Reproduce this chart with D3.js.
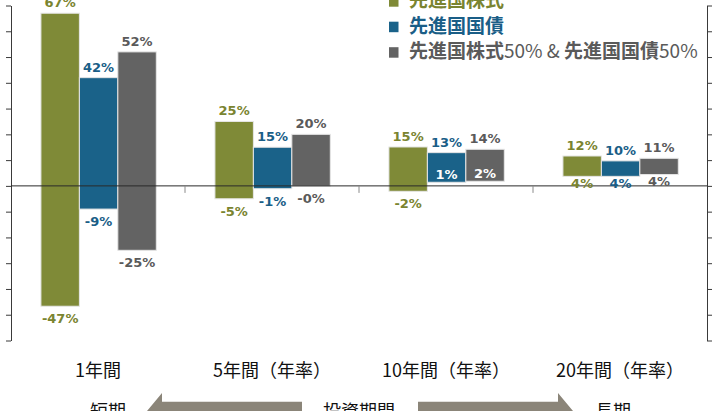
<!DOCTYPE html>
<html>
<head>
<meta charset="utf-8">
<script src="https://cdn.jsdelivr.net/npm/d3@7"></script>
<style>
  body { margin: 0; background: #fff; }
  svg { display: block; }
</style>
</head>
<body>
<div id="chart"></div>
<script>
// data (percent, max / min of the rolling returns)
var categories = ["1年間", "5年間（年率）", "10年間（年率）", "20年間（年率）"];
var seriesNames = ["先進国株式", "先進国国債", "先進国株式50% & 先進国国債50%"];
var equityMax = [67, 25, 15.1, 11.6];
var equityMin = [-46.7, -5, -2.1, 3.7];
var bondMax = [42, 15, 12.9, 9.7];
var bondMin = [-9, -1.1, 1.4, 3.7];
var mixMax = [52, 20, 14.2, 10.7];
var mixMin = [-25, -0.1, 1.8, 4.4];
var yTicks = [-60, -50, -40, -30, -20, -10, 0, 10, 20, 30, 40, 50, 60, 70];

var barColors = ["#7f8a37", "#1a6289", "#636363"];
var textColors = ["#7a8430", "#1a5e87", "#5a5a5a"];

var width = 720, height = 411;
var plotLeft = 11, plotRight = 707, plotTop = 5.5, plotBottom = 340.5;

var svg = d3.select("#chart")
  .append("svg")
    .attr("width", width)
    .attr("height", height);

// scales
var x = d3.scaleBand()
  .domain(categories)
  .range([plotLeft, plotRight])
  .padding(0);

var x1 = d3.scaleBand()
  .domain(seriesNames)
  .range([x.bandwidth() * 0.172, x.bandwidth() * 0.835])
  .padding(0);

var y = d3.scaleLinear()
  .domain([-60, 70])
  .range([plotBottom, plotTop]);

// build rows from the arrays
var mins = [equityMin, bondMin, mixMin];
var maxs = [equityMax, bondMax, mixMax];
var rows = [];
categories.forEach(function(c, i) {
  seriesNames.forEach(function(s, j) {
    rows.push({cat: c, series: s, idx: j, min: mins[j][i], max: maxs[j][i]});
  });
});

function pct(v) {
  var r = Math.round(v);
  return (v < 0 ? "-" : "") + Math.abs(r) + "%";
}

// axes left and right (no labels)
svg.append("g")
  .attr("transform", "translate(" + plotLeft + ",0)")
  .call(d3.axisLeft(y).tickValues(yTicks).tickSize(5).tickSizeOuter(0).tickFormat(""))
  .call(function(g) { g.selectAll("path,line").attr("stroke", "#3a3a3a"); });

svg.append("g")
  .attr("transform", "translate(" + plotRight + ",0)")
  .call(d3.axisRight(y).tickValues(yTicks).tickSize(5).tickSizeOuter(0).tickFormat(""))
  .call(function(g) { g.selectAll("path,line").attr("stroke", "#3a3a3a"); });

// bars
svg.selectAll("rect.bar")
  .data(rows)
  .enter()
  .append("rect")
    .attr("class", "bar")
    .attr("x", function(d) { return x(d.cat) + x1(d.series); })
    .attr("y", function(d) { return y(d.max); })
    .attr("width", x1.bandwidth())
    .attr("height", function(d) { return y(d.min) - y(d.max); })
    .attr("fill", function(d) { return barColors[d.idx]; })
    .attr("stroke", "#e6e6e6")
    .attr("stroke-width", 1);

// zero line + category separators
svg.append("line")
  .attr("x1", plotLeft).attr("x2", plotRight)
  .attr("y1", y(0)).attr("y2", y(0))
  .attr("stroke", "#2a2a2a");

svg.selectAll("line.sep")
  .data(categories.slice(1))
  .enter()
  .append("line")
    .attr("x1", function(d) { return x(d); })
    .attr("x2", function(d) { return x(d); })
    .attr("y1", y(0))
    .attr("y2", y(0) + 7)
    .attr("stroke", "#8a8a8a");

// value labels
var labelFont = "'DejaVu Sans', Verdana, sans-serif";

svg.selectAll("text.top")
  .data(rows)
  .enter()
  .append("text")
    .attr("x", function(d) { return x(d.cat) + x1(d.series) + x1.bandwidth() / 2; })
    .attr("y", function(d) { return y(d.max) - 6; })
    .attr("text-anchor", "middle")
    .style("font-family", labelFont)
    .style("font-weight", "bold")
    .style("font-size", "13px")
    .attr("fill", function(d) { return textColors[d.idx]; })
    .text(function(d) { return pct(d.max); });

svg.selectAll("text.bot")
  .data(rows)
  .enter()
  .append("text")
    .attr("x", function(d) { return x(d.cat) + x1(d.series) + x1.bandwidth() / 2; })
    .attr("y", function(d) {
      // small positive minimum sits inside the bar
      if (d.min > 0 && d.min < 3) return y(d.min) - 3.5;
      return y(d.min) + (d.min < 0 ? 17 : 11.5);
    })
    .attr("text-anchor", "middle")
    .style("font-family", labelFont)
    .style("font-weight", "bold")
    .style("font-size", "13px")
    .attr("fill", function(d) {
      if (d.min > 0 && d.min < 3) return "#ffffff";
      return textColors[d.idx];
    })
    .text(function(d) { return pct(d.min); });

// category labels
var jpFont = "'Noto Sans CJK JP', sans-serif";
svg.selectAll("text.cat")
  .data(categories)
  .enter()
  .append("text")
    .attr("x", function(d) { return x(d) + x.bandwidth() / 2; })
    .attr("y", 377)
    .attr("text-anchor", "middle")
    .style("font-family", jpFont)
    .style("font-size", "18px")
    .attr("fill", "#111")
    .text(function(d) { return d; });

// legend
var legend = svg.append("g").attr("transform", "translate(389,0)");
seriesNames.forEach(function(s, i) {
  var by = 7.2 + i * 25.5;
  legend.append("rect")
    .attr("x", 0)
    .attr("y", by - 11)
    .attr("width", 9.5)
    .attr("height", 10.5)
    .attr("fill", barColors[i]);
  var t = legend.append("text")
    .attr("x", 20)
    .attr("y", by)
    .style("font-family", jpFont)
    .style("font-size", "19px")
    .attr("fill", textColors[i]);
  // latin parts are drawn in regular weight
  s.split(/([0-9%& ]+)/).forEach(function(part) {
    if (part === "") return;
    t.append("tspan")
      .style("font-weight", /^[0-9%& ]+$/.test(part) ? "normal" : "bold")
      .text(part);
  });
});

// bottom arrows: 短期 <— 投資期間 —> 長期
var arrowColor = "#8b8579";
var ay = 411;
function arrow(x0, x1a, dir) {
  // x0 = tail, x1a = tip
  var hx = x1a - dir * 15;
  var pts = [
    [x0, ay - 9.3], [hx, ay - 9.3], [hx, ay - 18], [x1a, ay],
    [hx, ay + 18], [hx, ay + 9.3], [x0, ay + 9.3]
  ];
  svg.append("path")
    .attr("d", d3.line()(pts) + "Z")
    .attr("fill", arrowColor);
}
arrow(302, 147, -1);
arrow(418, 573, 1);

var bottomText = [
  {t: "短期", x: 90, a: "start"},
  {t: "投資期間", x: 323, a: "start"},
  {t: "長期", x: 595, a: "start"}
];
svg.selectAll("text.bt")
  .data(bottomText)
  .enter()
  .append("text")
    .attr("x", function(d) { return d.x; })
    .attr("y", 418)
    .attr("text-anchor", function(d) { return d.a; })
    .style("font-family", jpFont)
    .style("font-size", "18px")
    .attr("fill", "#111")
    .text(function(d) { return d.t; });
</script>
</body>
</html>
